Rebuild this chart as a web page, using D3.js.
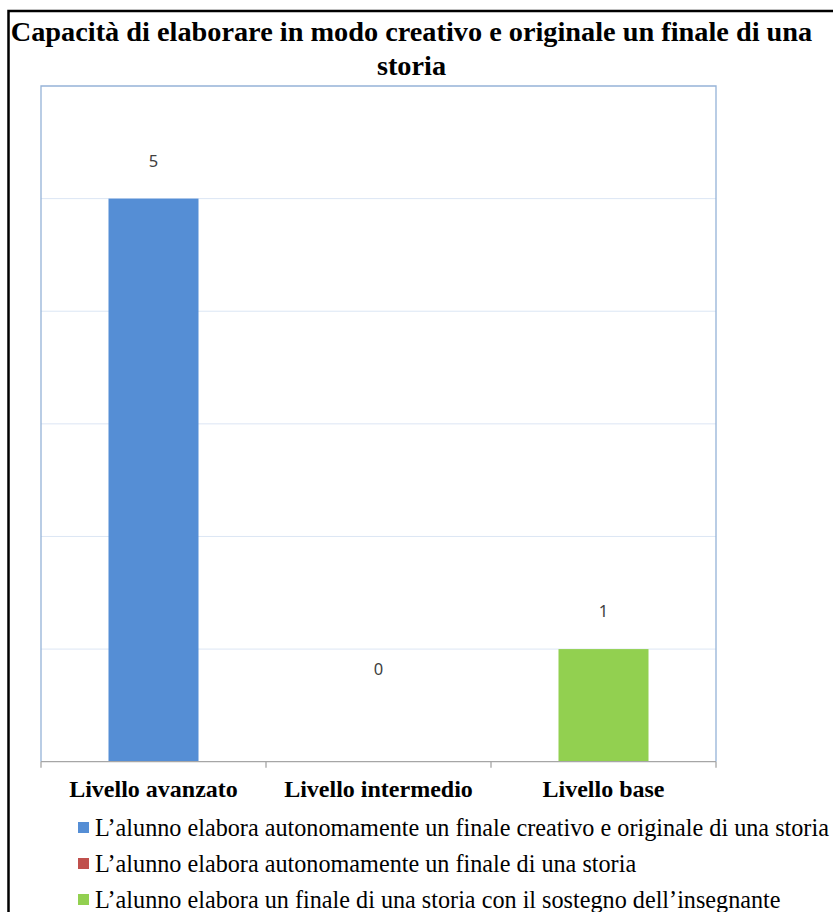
<!DOCTYPE html>
<html>
<head>
<meta charset="utf-8">
<script src="https://cdn.jsdelivr.net/npm/d3@7"></script>
<style>
  html, body { margin: 0; padding: 0; background: #ffffff; }
  svg { display: block; }
</style>
</head>
<body>
<svg id="chart" width="833" height="912"></svg>
<script>
// Chart content
const titleLines = ["Capacità di elaborare in modo creativo e originale un finale di una", "storia"];
const categories = ["Livello avanzato", "Livello intermedio", "Livello base"];
const values = [5, 0, 1];
const legendLabels = [
  "L’alunno elabora autonomamente un finale creativo e originale di una storia",
  "L’alunno elabora autonomamente un finale di una storia",
  "L’alunno elabora un finale di una storia con il sostegno dell’insegnante"
];
const colors = ["#558ed5", "#c0504d", "#92d050"];
const yTicks = [1, 2, 3, 4, 5, 6];

const svg = d3.select("#chart");
const serif = "'Liberation Serif', 'Times New Roman', serif";
const sans = "'Noto Sans', 'Open Sans', sans-serif";

// Outer frame
svg.append("rect")
  .attr("x", 8.5).attr("y", 11)
  .attr("width", 900).attr("height", 1000)
  .attr("fill", "none").attr("stroke", "#000").attr("stroke-width", 2.5);

// Title
svg.append("g").selectAll("text")
  .data(titleLines)
  .join("text")
  .attr("x", 411.5)
  .attr("y", (d, i) => 41 + i * 34)
  .attr("text-anchor", "middle")
  .attr("font-family", serif)
  .attr("font-weight", "bold")
  .attr("font-size", 28.3)
  .attr("fill", "#000")
  .text(d => d);

// Plot area
const plot = { left: 41, right: 716, top: 86, bottom: 761.7 };
const x = d3.scaleBand().domain(categories).range([plot.left, plot.right]).paddingInner(0).paddingOuter(0);
const y = d3.scaleLinear().domain([0, 6]).range([plot.bottom, plot.top]);

// Gridlines
svg.append("g")
  .selectAll("line")
  .data(yTicks.slice(0, -1))
  .join("line")
  .attr("x1", plot.left).attr("x2", plot.right)
  .attr("y1", d => y(d)).attr("y2", d => y(d))
  .attr("stroke", "#dce6f4").attr("stroke-width", 1);

// Plot border (left, top, right)
svg.append("path")
  .attr("d", `M${plot.left},${plot.bottom}V${y(6)}H${plot.right}V${plot.bottom}`)
  .attr("fill", "none").attr("stroke", "#95b3d7").attr("stroke-width", 1.3);

// Bars
const barW = x.bandwidth() * 0.4;
svg.append("g")
  .selectAll("rect")
  .data(values)
  .join("rect")
  .attr("x", (d, i) => x(categories[i]) + (x.bandwidth() - barW) / 2)
  .attr("y", d => y(d))
  .attr("width", barW)
  .attr("height", d => y(0) - y(d))
  .attr("fill", (d, i) => colors[i]);

// Category axis
const xAxis = svg.append("g")
  .attr("transform", `translate(0,${plot.bottom})`);
xAxis.append("line")
  .attr("x1", plot.left).attr("x2", plot.right)
  .attr("stroke", "#a6a6a6").attr("stroke-width", 1.3);
const edges = categories.map(c => x(c)).concat([plot.right]);
xAxis.selectAll(".tick")
  .data(edges)
  .join("line")
  .attr("class", "tick")
  .attr("x1", d => d).attr("x2", d => d)
  .attr("y1", 0).attr("y2", 6)
  .attr("stroke", "#a6a6a6").attr("stroke-width", 1.3);
xAxis.selectAll("text")
  .data(categories)
  .join("text")
  .attr("x", d => x(d) + x.bandwidth() / 2)
  .attr("y", 35.5)
  .attr("text-anchor", "middle")
  .attr("font-family", serif)
  .attr("font-weight", "bold")
  .attr("font-size", 24)
  .attr("fill", "#000")
  .text(d => d);

// Value labels, kept clear of the axis for short bars
svg.append("g")
  .selectAll("text")
  .data(values)
  .join("text")
  .attr("x", (d, i) => x(categories[i]) + x.bandwidth() / 2)
  .attr("y", d => Math.min(y(d) - 38, y(0.82)))
  .attr("dy", "0.36em")
  .attr("text-anchor", "middle")
  .attr("font-family", sans)
  .attr("font-size", 16.5)
  .attr("fill", "#404040")
  .text(d => d);

// Legend
const legend = svg.append("g")
  .selectAll("g")
  .data(legendLabels)
  .join("g")
  .attr("transform", (d, i) => `translate(78,${828 + i * 36})`);
legend.append("rect")
  .attr("x", 0).attr("y", -6)
  .attr("width", 11).attr("height", 11)
  .attr("fill", (d, i) => colors[i]);
legend.append("text")
  .attr("x", 17)
  .attr("y", 0)
  .attr("dy", "0.33em")
  .attr("font-family", serif)
  .attr("font-size", 24.2)
  .attr("fill", "#000")
  .text(d => d);
</script>
</body>
</html>
